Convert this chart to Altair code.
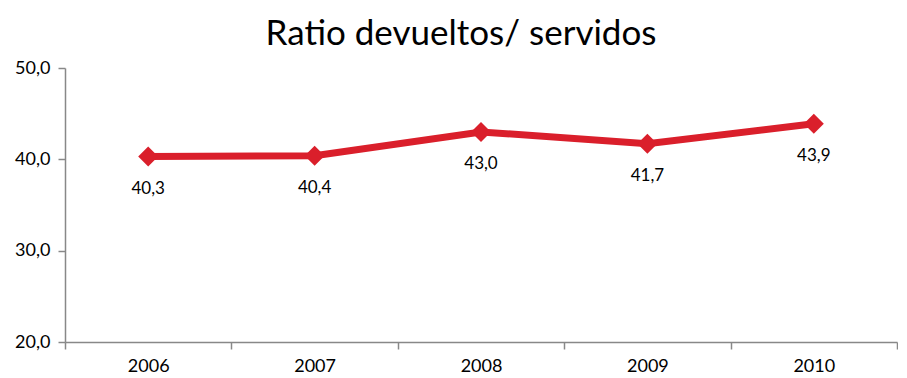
import altair as alt
import pandas as pd

years = ["2006", "2007", "2008", "2009", "2010"]
ratios = [40.3, 40.4, 43.0, 41.7, 43.9]

df = pd.DataFrame({"year": years, "ratio": ratios})
df["label"] = [f"{v:.1f}".replace(".", ",") for v in ratios]

RED = "#DA1F2B"
FONT = "Lato"

x = alt.X("year:N", title=None, sort=years,
          scale=alt.Scale(paddingInner=0, paddingOuter=0),
          axis=alt.Axis(labelAngle=0, labelFontSize=18, labelColor="#000",
                        labelFont=FONT, domainColor="#888", tickColor="#888",
                        tickSize=7, tickBand="extent", labelPadding=8,
                        domainWidth=1.5, tickWidth=1.5))
y = alt.Y("ratio:Q", title=None,
          scale=alt.Scale(domain=[20, 50], nice=False, zero=False),
          axis=alt.Axis(values=[20, 30, 40, 50], grid=False,
                        labelExpr="replace(format(datum.value, '.1f'), '.', ',')",
                        labelFontSize=18, labelColor="#000", labelFont=FONT,
                        domainColor="#888", tickColor="#888", tickSize=7,
                        labelPadding=8, domainWidth=1.5, tickWidth=1.5))

base = alt.Chart(df).encode(x=x, y=y)
line = base.mark_line(color=RED, strokeWidth=7)
pts = base.mark_point(shape="diamond", filled=True, color=RED, size=400, opacity=1)
txt = base.mark_text(dy=32, fontSize=17, font=FONT, color="#000").encode(text="label:N")

chart = (line + pts + txt).properties(
    width=832, height=274,
    padding={"left": 6, "right": 0, "top": 9, "bottom": 5},
    title=alt.TitleParams("Ratio devueltos/ servidos", fontSize=35, font=FONT,
                          fontWeight="normal", color="#000", offset=7,
                          anchor="middle", dx=-20),
).configure_view(stroke=None)

chart.save("out.html", embed_options={"renderer": "svg", "actions": False})
